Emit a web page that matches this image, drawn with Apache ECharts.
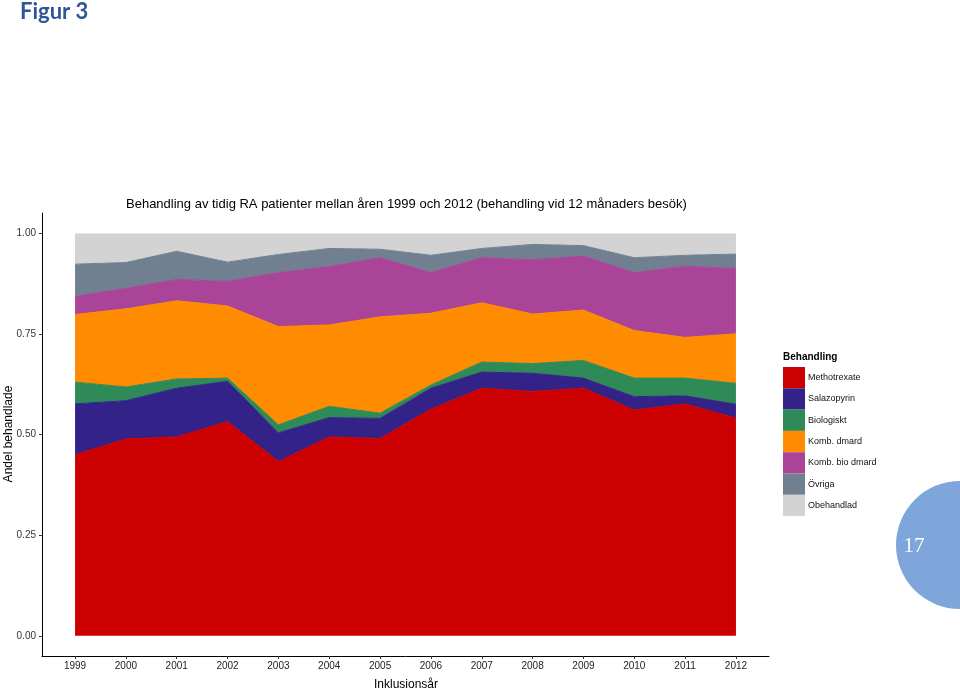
<!DOCTYPE html>
<html>
<head>
<meta charset="utf-8">
<script src="https://cdn.jsdelivr.net/npm/echarts@6/dist/echarts.min.js"></script>
<style>
html,body{margin:0;padding:0;background:#fff;}
#chart{width:960px;height:693px;}
</style>
</head>
<body>
<div id="chart"></div>
<script>
var years = [1999,2000,2001,2002,2003,2004,2005,2006,2007,2008,2009,2010,2011,2012];
var yTicks = [0, 0.25, 0.5, 0.75, 1];
var seriesNames = ['Methotrexate','Salazopyrin','Biologiskt','Komb. dmard','Komb. bio dmard','Övriga','Obehandlad'];
var methotrexate = [0.450,0.489,0.494,0.532,0.433,0.494,0.490,0.563,0.615,0.607,0.615,0.561,0.576,0.541];
var salazopyrin  = [0.126,0.095,0.121,0.100,0.071,0.048,0.050,0.052,0.040,0.045,0.025,0.033,0.020,0.034];
var biologiskt   = [0.054,0.034,0.023,0.008,0.020,0.028,0.013,0.008,0.025,0.024,0.044,0.046,0.044,0.052];
var kombDmard    = [0.168,0.194,0.194,0.179,0.244,0.202,0.239,0.178,0.147,0.123,0.125,0.118,0.101,0.123];
var kombBio      = [0.045,0.051,0.053,0.061,0.134,0.145,0.147,0.101,0.112,0.135,0.134,0.144,0.177,0.162];
var ovriga       = [0.080,0.064,0.070,0.048,0.045,0.045,0.021,0.043,0.023,0.038,0.026,0.037,0.027,0.036];
var obehandlad   = [0.077,0.073,0.045,0.072,0.053,0.038,0.040,0.055,0.038,0.028,0.031,0.061,0.055,0.052];

var colors = ['#CC0000','#332288','#2E8B57','#FF8C00','#AA4499','#708090','#D3D3D3'];
var allValues = [methotrexate, salazopyrin, biologiskt, kombDmard, kombBio, ovriga, obehandlad];

// frame (axes) grid geometry with ggplot-like 5% expansion
var W = 960, H = 693;
var fL = 42, fR = 191, fT = 213, fB = 37;
var xMin = 1998.35, xMax = 2012.65, yMin = -0.05, yMax = 1.05;
var pxPerYear = (W - fL - fR) / (xMax - xMin);
var pxPerUnit = (H - fT - fB) / (yMax - yMin);
var dL = fL + (years[0] - xMin) * pxPerYear;
var dR = fR + (xMax - years[years.length - 1]) * pxPerYear;
var dT = fT + (yMax - 1) * pxPerUnit;
var dB = fB + (0 - yMin) * pxPerUnit;

var series = seriesNames.map(function(name, i){
  return {
    name: name,
    type: 'line',
    stack: 'total',
    xAxisIndex: 1,
    yAxisIndex: 1,
    symbol: 'none',
    showSymbol: false,
    lineStyle: {width: i < seriesNames.length - 1 ? 1 : 0, color: colors[i]},
    itemStyle: {color: colors[i]},
    areaStyle: {color: colors[i], opacity: 1},
    data: allValues[i]
  };
});

var chart = echarts.init(document.getElementById('chart'), null, {renderer: 'canvas'});
var font = '"Liberation Sans", Arial, Helvetica, sans-serif';
chart.setOption({
  animation: false,
  color: colors,
  textStyle: {fontFamily: font},
  grid: [
    {left: fL, right: fR, top: fT, bottom: fB, containLabel: false},
    {left: dL, right: dR, top: dT, bottom: dB, containLabel: false}
  ],
  xAxis: [{
    type: 'value',
    gridIndex: 0,
    min: xMin,
    max: xMax,
    axisLine: {show: true, onZero: false, lineStyle: {color: '#000', width: 1}},
    axisTick: {show: true, customValues: years, length: 3, lineStyle: {color: '#333'}},
    axisLabel: {customValues: years, margin: 5, fontSize: 10, color: '#222',
      fontFamily: '"Liberation Sans Narrow", "Liberation Sans", Arial, sans-serif',
      formatter: function(v){ return String(Math.round(v)); }},
    splitLine: {show: false}
  }, {
    type: 'category',
    gridIndex: 1,
    boundaryGap: false,
    data: years.map(String),
    show: false
  }],
  yAxis: [{
    type: 'value',
    gridIndex: 0,
    min: yMin,
    max: yMax,
    axisLine: {show: true, onZero: false, lineStyle: {color: '#000', width: 1}},
    axisTick: {show: true, customValues: yTicks, length: 3, lineStyle: {color: '#333'}},
    axisLabel: {customValues: yTicks, margin: 6, fontSize: 10, color: '#333',
      formatter: function(v){ return v.toFixed(2); }},
    splitLine: {show: false}
  }, {
    type: 'value',
    gridIndex: 1,
    min: 0,
    max: 1,
    show: false,
    splitLine: {show: false}
  }],
  legend: {
    orient: 'vertical',
    left: 783,
    top: 367,
    padding: 0,
    icon: 'rect',
    itemWidth: 22,
    itemHeight: 21.3,
    itemGap: 0,
    selectedMode: false,
    textStyle: {fontSize: 9, color: '#111', fontFamily: font, padding: [0,0,0,-2]},
    data: seriesNames
  },
  graphic: [
    {type: 'text', left: 20, top: 1, style: {text: 'Figur 3', fontSize: 22, fontWeight: 'bold',
      fontFamily: 'Lato, "Open Sans", sans-serif', fill: '#2F5597'}},
    {type: 'text', x: 126, y: 204, style: {text: 'Behandling av tidig RA patienter mellan åren 1999 och 2012 (behandling vid 12 månaders besök)',
      fontSize: 13, fontFamily: font, fill: '#000', textVerticalAlign: 'middle'}},
    {type: 'text', x: 9, y: 434, rotation: Math.PI/2, style: {text: 'Andel behandlade', fontSize: 12,
      fontFamily: font, fill: '#000', textAlign: 'center', textVerticalAlign: 'middle'}},
    {type: 'text', x: 406, y: 685, style: {text: 'Inklusionsår', fontSize: 12,
      fontFamily: font, fill: '#000', textAlign: 'center', textVerticalAlign: 'middle'}},
    {type: 'text', x: 783, y: 357, style: {text: 'Behandling', fontSize: 10, fontWeight: 'bold',
      fontFamily: font, fill: '#000', textVerticalAlign: 'middle'}},
    {type: 'circle', shape: {cx: 960, cy: 545, r: 64}, style: {fill: '#7FA6DB'}},
    {type: 'text', x: 914, y: 546, style: {text: '17', fontSize: 21, fill: '#fff',
      fontFamily: '"Liberation Serif", "DejaVu Serif", serif', textAlign: 'center', textVerticalAlign: 'middle'}}
  ],
  series: series
});
</script>
</body>
</html>
